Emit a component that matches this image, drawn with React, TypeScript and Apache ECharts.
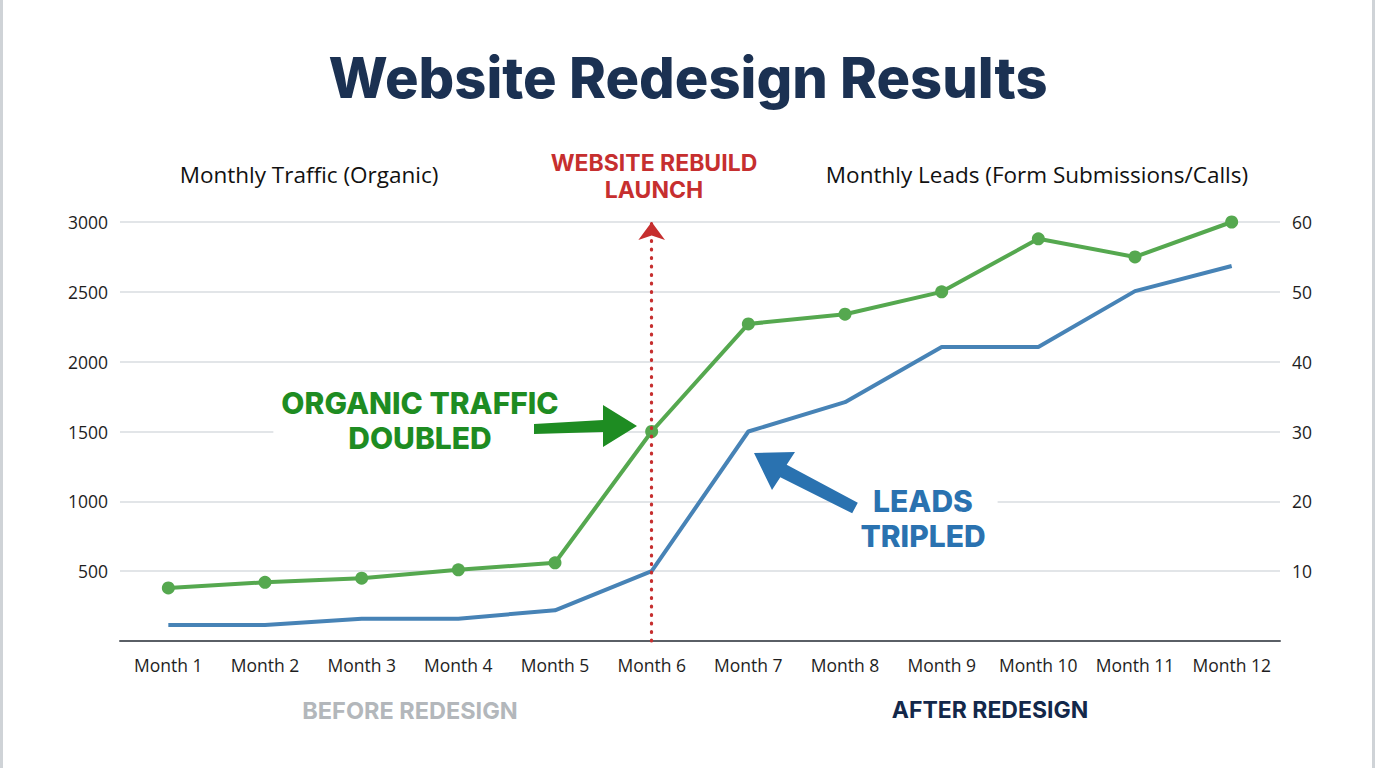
import React, { useEffect, useRef } from 'react';
import * as echarts from 'echarts';

const months = ['Month 1', 'Month 2', 'Month 3', 'Month 4', 'Month 5', 'Month 6', 'Month 7', 'Month 8', 'Month 9', 'Month 10', 'Month 11', 'Month 12'];
const trafficValues = [380, 420, 450, 510, 560, 1500, 2270, 2340, 2500, 2880, 2750, 3000];
const leadValues = [2.3, 2.3, 3.2, 3.2, 4.4, 10, 30, 34.2, 42.1, 42.1, 50.1, 53.7];
const launchMonth = 'Month 6';

const GREEN = '#55a84f';
const BLUE = '#4783b6';
const RED = '#c62f2f';
const NAVY = '#1b3152';
const SANS = '"Open Sans", sans-serif';
const BOLD = 'Inter, "Open Sans", sans-serif';

const App: React.FC = () => {
    const chartRef = useRef<HTMLDivElement>(null);

    useEffect(() => {
        document.body.style.margin = '0';
        const chartDom = chartRef.current!;
        const myChart = echarts.init(chartDom, undefined, { renderer: 'svg' });

        const option: echarts.EChartsOption = {
            animation: false,
            backgroundColor: '#ffffff',
            title: {
                text: 'Website Redesign Results',
                left: 'center',
                top: 45,
                textStyle: { fontFamily: BOLD, fontSize: 56, fontWeight: 800, color: NAVY },
            },
            grid: { left: 120, right: 96, top: 222, bottom: 127 },
            xAxis: {
                type: 'category',
                data: months,
                boundaryGap: true,
                axisLine: { lineStyle: { color: '#5a5f66', width: 2 } },
                axisTick: { show: false },
                axisLabel: { interval: 0, color: '#1e1e1e', fontFamily: SANS, fontSize: 17.5, margin: 15 },
            },
            yAxis: [
                {
                    type: 'value',
                    min: 0,
                    max: 3000,
                    interval: 500,
                    axisLine: { show: false },
                    axisTick: { show: false },
                    axisLabel: {
                        showMinLabel: false, color: '#1e1e1e', fontFamily: SANS, fontSize: 17.5, margin: 12,
                        formatter: (v: number) => String(v),
                    },
                    splitLine: { lineStyle: { color: '#d9dce0', width: 1.5 } },
                },
                {
                    type: 'value',
                    min: 0,
                    max: 60,
                    interval: 10,
                    axisLine: { show: false },
                    axisTick: { show: false },
                    axisLabel: { showMinLabel: false, color: '#1e1e1e', fontFamily: SANS, fontSize: 17.5, margin: 12 },
                    splitLine: { show: false },
                },
            ],
            series: [
                {
                    name: 'Monthly Leads',
                    type: 'line',
                    yAxisIndex: 1,
                    data: leadValues,
                    showSymbol: false,
                    lineStyle: { color: BLUE, width: 4 },
                    itemStyle: { color: BLUE },
                    markLine: {
                        silent: true,
                        symbol: ['none', 'arrow'],
                        symbolSize: [20, 18],
                        label: { show: false },
                        lineStyle: { color: RED, width: 3.2, type: [1, 7.5], cap: 'round' },
                        data: [{ xAxis: launchMonth }],
                    },
                },
                {
                    name: 'Monthly Traffic',
                    type: 'line',
                    yAxisIndex: 0,
                    data: trafficValues,
                    symbol: 'circle',
                    symbolSize: 13,
                    lineStyle: { color: GREEN, width: 4 },
                    itemStyle: { color: GREEN },
                    z: 3,
                },
            ],
            graphic: [
                { type: 'line', shape: { x1: 1.5, y1: 0, x2: 1.5, y2: 768 }, style: { stroke: '#cfd3d7', lineWidth: 3 } },
                { type: 'line', shape: { x1: 1373.5, y1: 0, x2: 1373.5, y2: 768 }, style: { stroke: '#cfd3d7', lineWidth: 3 } },
                {
                    type: 'text', x: 309, y: 174,
                    style: { text: 'Monthly Traffic (Organic)', fill: '#111', font: `400 22.5px ${SANS}`, textAlign: 'center', textVerticalAlign: 'middle' },
                },
                {
                    type: 'text', x: 1037, y: 174,
                    style: { text: 'Monthly Leads (Form Submissions/Calls)', fill: '#111', font: `400 22.5px ${SANS}`, textAlign: 'center', textVerticalAlign: 'middle' },
                },
                {
                    type: 'text', x: 654, y: 176,
                    style: { text: 'WEBSITE REBUILD\nLAUNCH', fill: RED, font: `700 23px ${BOLD}`, lineHeight: 27, textAlign: 'center', textVerticalAlign: 'middle' },
                },
                {
                    type: 'text', x: 420, y: 420, z: 10,
                    style: {
                        text: 'ORGANIC TRAFFIC\nDOUBLED', fill: '#1e8c22', font: `800 30px ${BOLD}`, lineHeight: 35,
                        textAlign: 'center', textVerticalAlign: 'middle', backgroundColor: '#ffffff', padding: [0, 8],
                    },
                },
                {
                    type: 'polygon', z: 10,
                    shape: { points: [[534, 424], [603, 420], [603, 405], [637, 426], [603, 447], [603, 432], [534, 434]] },
                    style: { fill: '#1e8c22' },
                },
                {
                    type: 'text', x: 923, y: 518, z: 10,
                    style: {
                        text: 'LEADS\nTRIPLED', fill: '#2a72b0', font: `800 30px ${BOLD}`, lineHeight: 35,
                        textAlign: 'center', textVerticalAlign: 'middle', backgroundColor: '#ffffff', padding: [0, 12],
                    },
                },
                {
                    type: 'polygon', z: 10,
                    shape: { points: [[754, 453], [795, 452], [786.7, 464.8], [857.8, 502.7], [852.2, 513.3], [780.3, 477.2], [772, 490]] },
                    style: { fill: '#2a72b0' },
                },
                {
                    type: 'text', x: 410, y: 710,
                    style: { text: 'BEFORE REDESIGN', fill: '#b3b7bb', font: `700 23.5px ${BOLD}`, textAlign: 'center', textVerticalAlign: 'middle' },
                },
                {
                    type: 'text', x: 990, y: 710,
                    style: { text: 'AFTER REDESIGN', fill: '#13284a', font: `700 23px ${BOLD}`, textAlign: 'center', textVerticalAlign: 'middle' },
                },
            ],
        };

        myChart.setOption(option);

        const resizeObserver = new ResizeObserver(() => {
            myChart.resize();
        });
        resizeObserver.observe(chartDom);

        return () => {
            myChart.dispose();
            resizeObserver.disconnect();
        };
    }, []);

    return <div ref={chartRef} style={{ position: 'fixed', left: 0, top: 0, width: '1376px', height: '768px' }} />;
};

export default App;
